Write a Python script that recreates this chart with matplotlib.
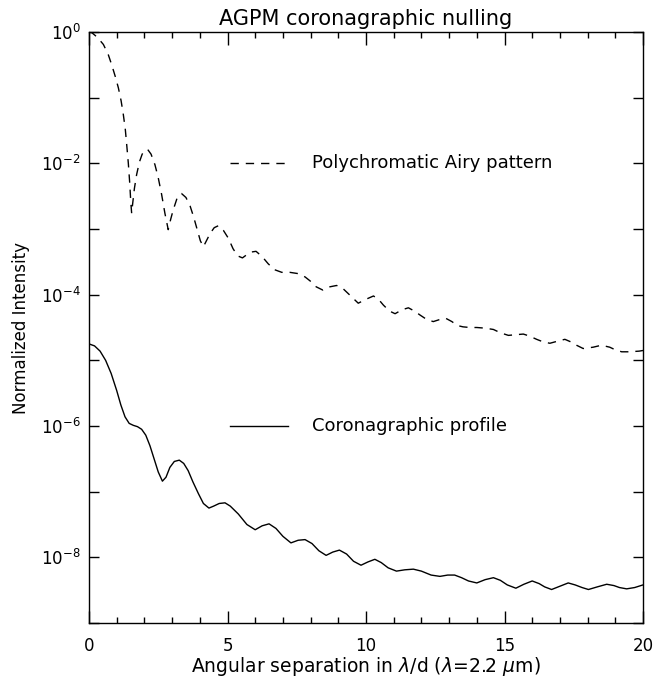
import numpy as np
import matplotlib
matplotlib.use("Agg")
import matplotlib.pyplot as plt
from matplotlib.ticker import MultipleLocator, FixedLocator, FuncFormatter

# Polychromatic Airy pattern (dashed): separation (lambda/d) and log10 intensity
airy_x = [0.0, 0.1, 0.3, 0.52, 0.7, 0.82, 0.95, 1.06, 1.16, 1.24, 1.31, 1.36, 1.42, 1.47,
          1.51, 1.54, 1.58, 1.64, 1.72, 1.82, 1.92, 2.02, 2.12, 2.24, 2.38, 2.5, 2.62,
          2.74, 2.86, 2.95, 3.04, 3.18, 3.34, 3.5, 3.65, 3.78, 3.9, 4.02, 4.13, 4.25,
          4.37, 4.52, 4.67, 4.85, 5.03, 5.2, 5.37, 5.54, 5.7, 5.87, 6.03, 6.25, 6.47,
          6.7, 6.96, 7.25, 7.56, 7.8, 7.98, 8.2, 8.44, 8.7, 8.94, 9.15, 9.4, 9.72, 10.0,
          10.27, 10.45, 10.63, 10.85, 11.05, 11.3, 11.53, 11.75, 11.95, 12.2, 12.43,
          12.65, 12.88, 13.1, 13.3, 13.5, 13.75, 14.0, 14.3, 14.6, 14.85, 15.14, 15.4,
          15.68, 15.9, 16.16, 16.4, 16.64, 16.9, 17.18, 17.4, 17.6, 17.84, 18.2, 18.5,
          18.8, 19.0, 19.23, 19.5, 19.86, 20.0]
airy_log = [0.0, -0.01, -0.08, -0.19, -0.35, -0.5, -0.68, -0.85, -1.05, -1.26, -1.48,
            -1.71, -2.0, -2.3, -2.6, -2.76, -2.6, -2.38, -2.17, -1.98, -1.86, -1.8, -1.79,
            -1.86, -2.02, -2.22, -2.47, -2.76, -3.01, -2.85, -2.71, -2.53, -2.46, -2.52,
            -2.65, -2.82, -3.0, -3.18, -3.27, -3.17, -3.07, -2.98, -2.95, -3.02, -3.14,
            -3.3, -3.41, -3.44, -3.39, -3.35, -3.34, -3.42, -3.53, -3.62, -3.66, -3.66,
            -3.68, -3.73, -3.79, -3.88, -3.93, -3.88, -3.86, -3.9, -4.0, -4.13, -4.07,
            -4.02, -4.07, -4.16, -4.25, -4.29, -4.23, -4.2, -4.25, -4.31, -4.38, -4.41,
            -4.38, -4.36, -4.41, -4.47, -4.49, -4.5, -4.5, -4.51, -4.53, -4.58, -4.62,
            -4.61, -4.6, -4.63, -4.68, -4.72, -4.74, -4.71, -4.68, -4.72, -4.77, -4.82,
            -4.8, -4.77, -4.8, -4.84, -4.87, -4.87, -4.86, -4.85]

# Coronagraphic profile (solid)
coro_x = [0.0, 0.2, 0.4, 0.6, 0.8, 1.0, 1.15, 1.3, 1.45, 1.6, 1.75, 1.9, 2.05, 2.2, 2.35,
          2.5, 2.65, 2.78, 2.92, 3.08, 3.26, 3.42, 3.58, 3.75, 3.95, 4.13, 4.33, 4.5,
          4.7, 4.91, 5.1, 5.39, 5.7, 6.0, 6.25, 6.5, 6.75, 7.0, 7.29, 7.55, 7.8, 8.05,
          8.3, 8.56, 8.8, 9.04, 9.3, 9.55, 9.82, 10.07, 10.32, 10.55, 10.8, 11.1, 11.4,
          11.71, 12.0, 12.35, 12.67, 12.95, 13.2, 13.45, 13.7, 14.0, 14.3, 14.6, 14.85,
          15.1, 15.41, 15.7, 16.0, 16.25, 16.45, 16.7, 17.0, 17.3, 17.55, 17.8, 18.03,
          18.35, 18.69, 18.95, 19.15, 19.41, 19.7, 20.0]
coro_log = [-4.75, -4.78, -4.86, -5.0, -5.2, -5.46, -5.68, -5.86, -5.96, -5.99, -6.01,
            -6.05, -6.14, -6.3, -6.5, -6.7, -6.84, -6.78, -6.63, -6.54, -6.52, -6.57,
            -6.68, -6.85, -7.03, -7.18, -7.25, -7.22, -7.18, -7.17, -7.22, -7.34, -7.5,
            -7.58, -7.52, -7.49, -7.56, -7.68, -7.78, -7.74, -7.73, -7.79, -7.9, -7.97,
            -7.92, -7.89, -7.95, -8.06, -8.12, -8.07, -8.03, -8.08, -8.16, -8.21, -8.19,
            -8.18, -8.21, -8.27, -8.29, -8.27, -8.27, -8.31, -8.36, -8.39, -8.34, -8.31,
            -8.35, -8.42, -8.47, -8.41, -8.36, -8.4, -8.45, -8.49, -8.44, -8.39, -8.42,
            -8.46, -8.49, -8.45, -8.41, -8.43, -8.46, -8.48, -8.46, -8.42]

title = "AGPM coronagraphic nulling"
xlabel = r"Angular separation in $\lambda$/d ($\lambda$=2.2 $\mu$m)"
ylabel = "Normalized Intensity"
airy_label = "Polychromatic Airy pattern"
coro_label = "Coronagraphic profile"

plt.rcParams['font.family'] = ['DejaVu Sans']
plt.rcParams['mathtext.fontset'] = 'dejavusans'

fig = plt.figure(figsize=(6.56, 6.79), dpi=100)
ax = fig.add_axes([89/656, 1-623/679, 554/656, 591/679])

dash = (0, (6, 5))
ax.plot(airy_x, 10**np.array(airy_log), color='black', lw=1.0, linestyle=dash)
ax.plot(coro_x, 10**np.array(coro_log), color='black', lw=1.0)

ax.set_yscale('log')
ax.set_xlim(0, 20)
ax.set_ylim(1e-9, 1e0)

ax.xaxis.set_major_locator(MultipleLocator(5))
ax.xaxis.set_minor_locator(MultipleLocator(1))
ax.yaxis.set_major_locator(FixedLocator([10.0**e for e in range(-9, 1)]))
ax.yaxis.set_minor_locator(FixedLocator([]))

def yfmt(v, pos):
    e = int(round(np.log10(v)))
    if e % 2 == 0:
        return r"$10^{%d}$" % e
    return ""
ax.yaxis.set_major_formatter(FuncFormatter(yfmt))
ax.xaxis.set_major_formatter(FuncFormatter(lambda v, p: "%d" % v))

ax.tick_params(which='both', direction='in', top=True, right=True, width=1.0, colors='black')
ax.tick_params(axis='x', which='major', length=9, labelsize=12, pad=10)
ax.tick_params(axis='x', which='minor', length=4.5)
ax.tick_params(axis='y', which='major', length=7, labelsize=12, pad=6)
for s in ax.spines.values():
    s.set_linewidth(1.0)

ax.set_title(title, fontsize=15, pad=5)
ax.set_xlabel(xlabel, fontsize=13.5, labelpad=0)
ax.set_ylabel(ylabel, fontsize=12, labelpad=8)

# in-plot legend
ax.plot([5.1, 7.2], [1e-2, 1e-2], color='black', lw=1.0, linestyle=dash)
ax.text(8.05, 1e-2, airy_label, fontsize=13, va='center', ha='left')
ax.plot([5.1, 7.2], [1e-6, 1e-6], color='black', lw=1.0)
ax.text(8.05, 1e-6, coro_label, fontsize=13, va='center', ha='left')

fig.savefig("out.png", dpi=100)
